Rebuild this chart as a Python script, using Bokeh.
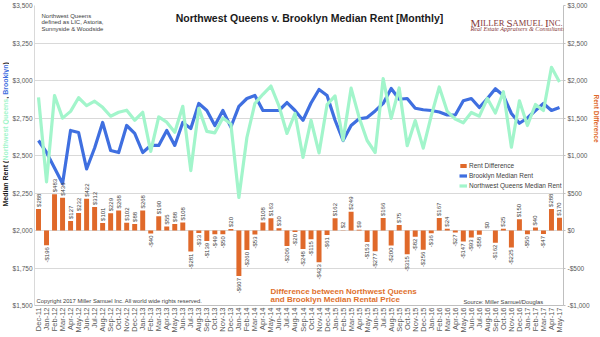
import math
from bokeh.plotting import figure
from bokeh.layouts import row
from bokeh.models import (ColumnDataSource, FactorRange, Range1d, LinearAxis, FixedTicker,
                          NumeralTickFormatter, Label, Legend, LegendItem)
from bokeh.core.properties import value
from bokeh.embed import file_html
from bokeh.resources import INLINE

months = ["Dec-11",
          "Jan-12", "Feb-12", "Mar-12", "Apr-12", "May-12", "Jun-12", "Jul-12", "Aug-12", "Sep-12", "Oct-12", "Nov-12", "Dec-12",
          "Jan-13", "Feb-13", "Mar-13", "Apr-13", "May-13", "Jun-13", "Jul-13", "Aug-13", "Sep-13", "Oct-13", "Nov-13", "Dec-13",
          "Jan-14", "Feb-14", "Mar-14", "Apr-14", "May-14", "Jun-14", "Jul-14", "Aug-14", "Sep-14", "Oct-14", "Nov-14", "Dec-14",
          "Jan-15", "Feb-15", "Mar-15", "Apr-15", "May-15", "Jun-15", "Jul-15", "Aug-15", "Sep-15", "Oct-15", "Nov-15", "Dec-15",
          "Jan-16", "Feb-16", "Mar-16", "Apr-16", "May-16", "Jun-16", "Jul-16", "Aug-16", "Sep-16", "Oct-16", "Nov-16", "Dec-16",
          "Jan-17", "Feb-17", "Mar-17", "Apr-17", "May-17"]

brooklyn = [2600,
            2520, 2417, 2313, 2667, 2653, 2410, 2550, 2720, 2533, 2520, 2700, 2647,
            2520, 2567, 2567, 2667, 2567, 2720, 2680, 2847, 2800, 2700, 2800, 2690,
            2827, 2880, 2900, 2800, 2800, 2800, 2853, 2800, 2735, 2850, 2940, 2900,
            2735, 2600, 2700, 2745, 2753, 2797, 2847, 2947, 2875, 2880, 2815, 2805,
            2800, 2790, 2770, 2770, 2865, 2880, 2820, 2880, 2945, 2900, 2780, 2715,
            2750, 2800, 2847, 2800, 2820]

nw_queens = [2888,
             2324, 2900, 2749, 2794, 2885, 2832, 2862, 2821, 2762, 2788, 2802, 2735,
             2788, 2527, 2757, 2722, 2655, 2828, 2399, 2814, 2661, 2651, 2750, 2710,
             2220, 2620, 2847, 2908, 2963, 2830, 2647, 2780, 2487, 2735, 2517, 2839,
             2897, 2602, 2949, 2754, 2600, 2520, 3013, 2747, 2950, 2565, 2733, 2549,
             2764, 2957, 2794, 2743, 2718, 2787, 2762, 2880, 2783, 2925, 2555, 2865,
             2700, 2840, 2800, 3088, 2990]

rent_diff = [288,
             -196, 483, 436, 127, 232, 422, 312, 101, 229, 268, 102, 88,
             268, -40, 190, 55, 88, 108, -281, -33, -139, -49, -50, 20,
             -607, -260, -53, 108, 163, 30, -206, -20, -248, -115, -423, -61,
             162, 2, 249, 9, -153, -277, 166, -200, 75, -315, -82, -256,
             -36, 167, 24, -27, -147, -93, -58, 0, -162, 25, -225, 150,
             -50, 40, -47, 288, 170]

left_ticks = [1500, 1750, 2000, 2250, 2500, 2750, 3000, 3250, 3500]
right_ticks = [-1000, -500, 0, 500, 1000, 1500, 2000, 2500, 3000]

BLUE = "#3F6FE0"
GREEN = "#A2F5CB"
ORANGE = "#E0692A"
GRID = "#D9D9D9"
TICK = "#595959"
FONT = "Liberation Sans"

H = 337
LSTRIP, RSTRIP = 9, 8
FL, FT, FR, FB = 22, 5, 26, 32
FRAME_W = 535
W = FL + FRAME_W + FR
CANVAS_FRAME_LEFT = LSTRIP + FL
FH = H - FT - FB


def strip(width):
    s = figure(width=width, height=H, x_range=Range1d(0, 1), y_range=Range1d(0, 1),
               x_axis_type=None, y_axis_type=None, output_backend="svg", toolbar_location=None,
               min_border=0, min_border_left=0, min_border_right=0, min_border_top=0, min_border_bottom=0)
    s.outline_line_color = None
    s.grid.visible = False
    return s


p = figure(width=W, height=H, x_range=FactorRange(factors=months, range_padding=0),
           y_range=Range1d(1500, 3500), output_backend="svg", toolbar_location=None,
           min_border_left=FL, min_border_right=FR, min_border_top=FT, min_border_bottom=FB)
p.extra_y_ranges = {"diff": Range1d(-1000, 3000)}
p.outline_line_color = None

# left axis
ya = p.yaxis[0]
ya.ticker = FixedTicker(ticks=left_ticks, minor_ticks=[])
ya.formatter = NumeralTickFormatter(format="$0,0")
ya.major_label_text_font_size = "6.5px"
ya.major_label_text_color = TICK
ya.major_label_text_font = FONT
ya.major_tick_line_color = None
ya.major_tick_out = 0
ya.major_tick_in = 0
ya.minor_tick_line_color = None
ya.minor_tick_out = 0
ya.axis_line_color = GRID
ya.major_label_standoff = 2
ya.axis_label_standoff = 0

# right axis
ra = LinearAxis(y_range_name="diff", ticker=FixedTicker(ticks=right_ticks, minor_ticks=[]),
                formatter=NumeralTickFormatter(format="$0,0"))
ra.major_label_text_font_size = "6.5px"
ra.major_label_text_color = TICK
ra.major_label_text_font = FONT
ra.major_tick_line_color = "#BFBFBF"
ra.major_tick_out = 2
ra.major_tick_in = 0
ra.minor_tick_line_color = None
ra.minor_tick_out = 0
ra.axis_line_color = "#BFBFBF"
ra.major_label_standoff = 2
ra.axis_label_standoff = 0
p.add_layout(ra, "right")

# x axis
xa = p.xaxis[0]
xa.major_label_orientation = math.pi / 2
xa.major_label_text_font_size = "7.5px"
xa.major_label_text_color = TICK
xa.major_label_text_font = FONT
xa.major_tick_line_color = None
xa.major_tick_out = 0
xa.major_tick_in = 0
xa.axis_line_color = "#BFBFBF"
xa.major_label_standoff = 2
xa.axis_label_standoff = 0

p.ygrid.grid_line_color = GRID
p.xgrid.grid_line_color = None

src = ColumnDataSource(dict(month=months, brooklyn=brooklyn, nwq=nw_queens, diff=rent_diff))

bars = p.vbar(x="month", top="diff", bottom=0, width=0.62, y_range_name="diff",
              fill_color=ORANGE, line_color=None, source=src)
bl = p.line(x="month", y="brooklyn", line_width=3.2, line_color=BLUE, line_join="round", source=src)
gl = p.line(x="month", y="nwq", line_width=3.2, line_color=GREEN, line_join="round", source=src)

pos_m = [m for m, d in zip(months, rent_diff) if d >= 0]
pos_d = [d for d in rent_diff if d >= 0]
neg_m = [m for m, d in zip(months, rent_diff) if d < 0]
neg_d = [d for d in rent_diff if d < 0]
pos_src = ColumnDataSource(dict(x=pos_m, y=pos_d, t=["$%d" % d for d in pos_d]))
neg_src = ColumnDataSource(dict(x=neg_m, y=neg_d, t=["-$%d" % abs(d) for d in neg_d]))
common = dict(angle=math.pi / 2, text_baseline="middle", text_font_size="6px",
              text_color="#404040", text_font=value(FONT), y_range_name="diff")
p.text(x="x", y="y", text="t", source=pos_src, text_align="left", y_offset=-2, **common)
p.text(x="x", y="y", text="t", source=neg_src, text_align="right", y_offset=2, **common)

legend = Legend(items=[LegendItem(label="Rent Difference", renderers=[bars]),
                       LegendItem(label="Brooklyn Median Rent", renderers=[bl]),
                       LegendItem(label="Northwest Queens Median Rent", renderers=[gl])],
                location=(456 - CANVAS_FRAME_LEFT, FH - (189 - FT)), orientation="vertical",
                label_text_font_size="6.5px", label_text_color="#404040", label_text_font=FONT,
                glyph_width=8, glyph_height=5, label_height=5, spacing=3, padding=0, margin=0,
                label_standoff=2, border_line_color=None, background_fill_alpha=0)
p.add_layout(legend)


def lab(fig, x0, x, y, text, size, color="#262626", style="normal", font=FONT, align="left",
        baseline="middle", angle=0.0, bottom=H - FB):
    fig.add_layout(Label(x=x - x0, y=bottom - y, x_units="screen", y_units="screen", text=text,
                         text_font_size=size, text_color=color, text_font_style=style,
                         text_font=font, text_align=align, text_baseline=baseline, angle=angle))


def mlab(x, y, text, size, **kw):
    lab(p, CANVAS_FRAME_LEFT, x, y, text, size, **kw)


# title and notes
mlab(306, 17, "Northwest Queens v. Brooklyn Median Rent [Monthly]", "10.5px", color="#1A1A1A", style="bold", align="center")
mlab(38, 15, "Northwest Queens", "6px", color="#404040")
mlab(38, 21.7, "defined as LIC, Astoria,", "6px", color="#404040")
mlab(38, 28.4, "Sunnyside & Woodside", "6px", color="#404040")

# logo
LOGO = "#86393A"
SERIF = "Liberation Serif"
pieces = [("M", 11, 0.889), ("ILLER ", 8.5, 2.833 + 0.25), ("S", 11, 0.556), ("AMUEL ", 8.5, 3.555 + 0.25),
          ("I", 11, 0.333), ("NC.", 8.5, 1.639)]
lx = 467
for txt, sz, em in pieces:
    mlab(lx, 22, txt, "%.1fpx" % sz, color=LOGO, font=SERIF, baseline="alphabetic")
    lx += sz * em
mlab(467, 27.8, "Real Estate Appraisers & Consultants", "6.2px", color=LOGO, style="italic", font=SERIF)

# bottom texts
mlab(33, 300, "Copyright 2017 Miller Samuel Inc.  All world wide rights reserved.", "5.8px", color="#404040")
mlab(267, 290.7, "Difference between Northwest Queens", "8px", color="#E0702C", style="bold")
mlab(267, 299.4, "and Brooklyn Median Rental Price", "8px", color="#E0702C", style="bold")
mlab(460, 301, "Source: Miller Samuel/Douglas", "5.8px", color="#404040")

# left axis title (multi-colour, rotated) in a narrow strip
left_strip = strip(LSTRIP)
ts = 7.0
parts = [("Median Rent (", "#1A1A1A", 6.556), ("Northwest Queens", GREEN, 8.835), (", ", "#1A1A1A", 0.556),
         ("Brooklyn", BLUE, 4.334), (")", "#1A1A1A", 0.333)]
yy = 238
for txt, col, em in parts:
    lab(left_strip, 0, 5, yy, txt, "%.1fpx" % ts, color=col, style="bold", angle=math.pi / 2, bottom=H)
    yy -= ts * em

# right axis title in a narrow strip
right_strip = strip(RSTRIP)
lab(right_strip, 600 - RSTRIP, 596, 150, "Rent Difference", "6.5px", color=ORANGE, style="bold",
    align="center", angle=-math.pi / 2, bottom=H)

layout = row(left_strip, p, right_strip, spacing=0)
open("out.html", "w").write(file_html(layout, INLINE))
